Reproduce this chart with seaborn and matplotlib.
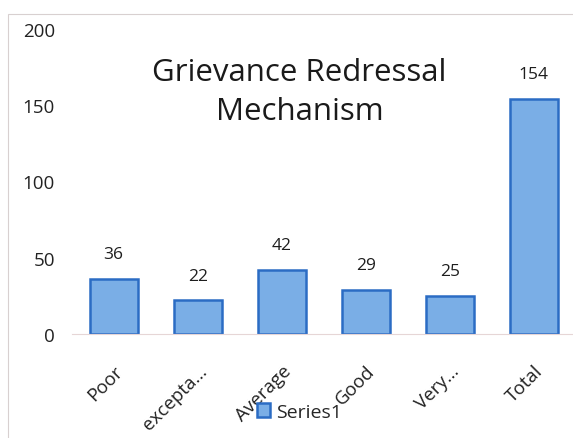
import matplotlib
matplotlib.use("Agg")
import matplotlib.pyplot as plt
import seaborn as sns
import pandas as pd
from matplotlib.patches import Rectangle

categories = ["Poor", "excepta...", "Average", "Good", "Very...", "Total"]
values = [36, 22, 42, 29, 25, 154]
series_name = "Series1"
title = "Grievance Redressal\nMechanism"
yticks = [0, 50, 100, 150, 200]

sns.set_theme(style="white")
plt.rcParams['font.family'] = ['Open Sans', 'DejaVu Sans']

df = pd.DataFrame({"category": categories, "value": values, "series": series_name})

fig = plt.figure(figsize=(5.73, 4.39), dpi=100)
ax = fig.add_axes([0.125, 0.237, 0.88, 0.695])

sns.barplot(data=df, x="category", y="value", hue="series", ax=ax,
            palette=["#7aaee6"], saturation=1, width=0.57,
            edgecolor="#2b6cc4", linewidth=1.8, legend=True)

for c in ax.containers:
    ax.bar_label(c, labels=[str(v) for v in values], padding=12, fontsize=12.5, color="#1e1e1e")

ax.set_ylim(0, 200)
ax.set_yticks(yticks)
ax.set_yticklabels([str(t) for t in yticks], fontsize=13.5, color="#222222")
ax.set_xticks(range(len(categories)))
ax.set_xticklabels(categories, rotation=45, ha="right", rotation_mode="anchor",
                   fontsize=13.5, color="#222222")
ax.tick_params(axis="x", length=0, pad=20)
ax.tick_params(axis="y", length=0, pad=12)
ax.set_xlabel("")
ax.set_ylabel("")
for s in ["top", "right", "left"]:
    ax.spines[s].set_visible(False)
ax.spines["bottom"].set_color("#e6d6d6")
ax.spines["bottom"].set_linewidth(0.8)

ax.text(0.452, 0.795, title, transform=ax.transAxes, ha="center", va="center",
        fontsize=22.5, color="#1a1a1a", linespacing=1.4)

leg = ax.legend(loc="center", bbox_to_anchor=(0.452, -0.256), frameon=False,
                fontsize=14, handlelength=0.7, handleheight=0.7, handletextpad=0.3)

fig.patches.append(Rectangle((0.014, -0.05), 1.2, 1.016, transform=fig.transFigure,
                             fill=False, edgecolor="#d8d0d0", linewidth=0.8))

fig.savefig("out.png", dpi=100)
